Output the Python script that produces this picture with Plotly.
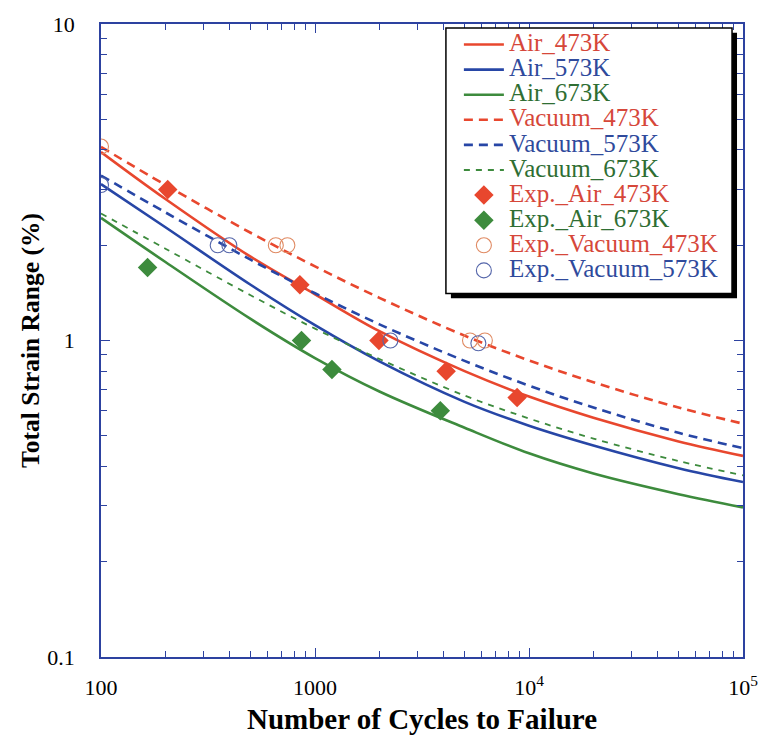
import plotly.graph_objects as go

# Cycles to failure at which the fitted life curves are tabulated
N_FIT = [100, 200, 500, 1000, 2000, 5000, 1e4, 2e4, 5e4, 1e5]

# Fitted total strain range (%) for each environment / temperature
air_473 = [3.94, 2.80, 1.84, 1.40, 1.07, 0.80, 0.665, 0.57, 0.48, 0.432]
air_573 = [3.12, 2.28, 1.50, 1.118, 0.859, 0.64, 0.538, 0.466, 0.395, 0.357]
air_673 = [2.44, 1.77, 1.17, 0.88, 0.69, 0.53, 0.44, 0.38, 0.327, 0.297]
vac_473 = [4.09, 3.10, 2.19, 1.715, 1.364, 1.036, 0.865, 0.738, 0.614, 0.546]
vac_573 = [3.32, 2.54, 1.80, 1.41, 1.125, 0.862, 0.72, 0.614, 0.511, 0.457]
vac_673 = [2.52, 1.95, 1.39, 1.09, 0.874, 0.67, 0.567, 0.49, 0.416, 0.375]

# Experimental results
exp_air_473_n = [205, 850, 1990, 4100, 8800]
exp_air_473_e = [3.0, 1.5, 1.0, 0.80, 0.66]
exp_air_673_n = [165, 865, 1200, 3850]
exp_air_673_e = [1.7, 1.0, 0.81, 0.60]
exp_vac_473_n = [100, 656, 743, 5300, 6220]
exp_vac_473_e = [4.1, 2.0, 2.0, 1.0, 1.0]
exp_vac_573_n = [100, 351, 398, 2250, 5800]
exp_vac_573_e = [3.1, 2.0, 2.0, 1.0, 0.98]

# Axis ticks
x_tickvals = [100, 1000, 1e4, 1e5]
x_ticktext = ["100", "1000", "10<sup>4</sup>", "10<sup>5</sup>"]
y_tickvals = [0.1, 1, 10]
y_ticktext = ["0.1", "1", "10"]

RED = "#E8472E"
BLUE = "#2746A6"
GREEN = "#3D8B3D"
RED_TXT = "#D6473A"
BLUE_TXT = "#2F4A9C"
GREEN_TXT = "#2F6E33"
ORANGE_C = "#E08A62"
AXIS = "#2D42A0"
FONT = "Liberation Serif"


def label(text, color):
    return f'<span style="color:{color};font-size:25px">{text}</span>'


fig = go.Figure()

curves = [
    ("Air_473K", air_473, RED, RED_TXT, "solid", 2.6),
    ("Air_573K", air_573, BLUE, BLUE_TXT, "solid", 2.6),
    ("Air_673K", air_673, GREEN, GREEN_TXT, "solid", 2.6),
    ("Vacuum_473K", vac_473, RED, RED_TXT, "9px,6px", 2.6),
    ("Vacuum_573K", vac_573, BLUE, BLUE_TXT, "9px,6px", 2.6),
    ("Vacuum_673K", vac_673, GREEN, GREEN_TXT, "6px,6px", 1.8),
]
for name, vals, col, tcol, dash, w in curves:
    fig.add_trace(go.Scatter(
        x=N_FIT, y=vals, mode="lines", name=label(name, tcol),
        line=dict(color=col, width=w, dash=dash, shape="spline", smoothing=1.0),
    ))

fig.add_trace(go.Scatter(
    x=exp_air_473_n, y=exp_air_473_e, mode="markers",
    name=label("Exp._Air_473K", RED_TXT),
    marker=dict(symbol="diamond", size=15, color=RED, line=dict(width=0)),
))
fig.add_trace(go.Scatter(
    x=exp_air_673_n, y=exp_air_673_e, mode="markers",
    name=label("Exp._Air_673K", GREEN_TXT),
    marker=dict(symbol="diamond", size=15, color=GREEN, line=dict(width=0)),
))
fig.add_trace(go.Scatter(
    x=exp_vac_473_n, y=exp_vac_473_e, mode="markers",
    name=label("Exp._Vacuum_473K", RED_TXT),
    marker=dict(symbol="circle-open", size=15, color=ORANGE_C, line=dict(width=1.1)),
))
fig.add_trace(go.Scatter(
    x=exp_vac_573_n, y=exp_vac_573_e, mode="markers",
    name=label("Exp._Vacuum_573K", BLUE_TXT),
    marker=dict(symbol="circle-open", size=15, color="#5566AA", line=dict(width=1.1)),
))

# plot area in pixels: x 101..745, y 16..662
L, R, T, B = 101, 745, 16, 662


def px(xp):
    return (xp - L) / (R - L)


def py(yp):
    return (B - yp) / (B - T)


# legend frame with drop shadow
fig.add_shape(type="rect", xref="paper", yref="paper",
              x0=px(452), x1=px(739), y0=py(296), y1=py(25),
              fillcolor="black", line=dict(width=0), layer="above")
fig.add_shape(type="rect", xref="paper", yref="paper",
              x0=px(447), x1=px(734), y0=py(291), y1=py(20),
              fillcolor="white", line=dict(color="black", width=1.5), layer="above")

minor_x = [v * m for v in (100, 1000, 10000) for m in range(2, 10)]
minor_y = [v * m for v in (0.1, 1) for m in range(2, 10)]

axis_common = dict(
    showline=True, linecolor=AXIS, linewidth=1.5, mirror="allticks",
    ticks="inside", ticklen=9, tickcolor=AXIS, tickwidth=1.3,
    showgrid=False, zeroline=False,
    tickfont=dict(family=FONT, size=22, color="black"),
)

fig.update_xaxes(
    type="log", range=[2, 5], tickmode="array",
    tickvals=x_tickvals, ticktext=x_ticktext,
    minor=dict(tickmode="array", tickvals=minor_x, ticks="inside",
               ticklen=6, tickcolor=AXIS, tickwidth=1.1, showgrid=False),
    title=dict(text="Number of Cycles to Failure",
               font=dict(family=FONT, size=29, color="black", weight="bold"),
               standoff=10),
    ticklabelstandoff=10,
    **axis_common,
)
fig.update_yaxes(
    type="log", range=[-1, 1], tickmode="array",
    tickvals=y_tickvals, ticktext=y_ticktext,
    minor=dict(tickmode="array", tickvals=minor_y, ticks="inside",
               ticklen=6, tickcolor=AXIS, tickwidth=1.1, showgrid=False),
    title=dict(text="Total Strain Range (%)",
               font=dict(family=FONT, size=25.5, color="black", weight="bold"),
               standoff=0),
    ticklabelstandoff=20,
    **axis_common,
)

fig.update_layout(
    width=770, height=742,
    margin=dict(l=L, r=770 - R, t=T, b=742 - B),
    paper_bgcolor="white", plot_bgcolor="white",
    showlegend=True,
    legend=dict(
        x=px(460), y=py(19), xanchor="left", yanchor="top",
        bgcolor="rgba(0,0,0,0)", borderwidth=0,
        font=dict(family=FONT, size=17, color="black"),
        itemwidth=40, tracegroupgap=0,
    ),
)

fig.write_html("out.html", config={"displayModeBar": False})
